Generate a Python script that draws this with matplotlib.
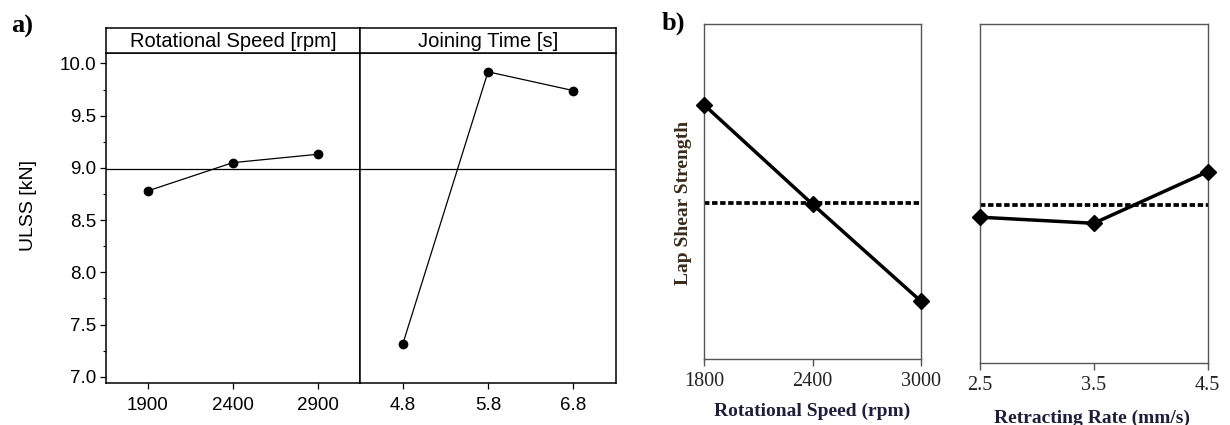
import numpy as np
import matplotlib
matplotlib.use("Agg")
import matplotlib.pyplot as plt
from matplotlib.ticker import MultipleLocator

# ---- (a) main effects on ULSS ----
speed_a_labels = ["1900", "2400", "2900"]
speed_a_ulss = [8.78, 9.05, 9.13]
time_a_labels = ["4.8", "5.8", "6.8"]
time_a_ulss = [7.31, 9.92, 9.74]
ulss_ticks = [7.0, 7.5, 8.0, 8.5, 9.0, 9.5, 10.0]

# ---- (b) main effects on lap shear strength (axis without scale) ----
speed_b = [1800, 2400, 3000]
speed_b_lss = [7.59, 4.63, 1.74]
rate_b = [2.5, 3.5, 4.5]
rate_b_lss = [4.31, 4.13, 5.65]

SANS = "Liberation Sans"
SERIF = "Liberation Serif"

W, H = 1230, 425
fig = plt.figure(figsize=(W / 100, H / 100), dpi=100)


def px_axes(x0, y0, x1, y1):
    """Axes placed by pixel box (origin top-left)."""
    return fig.add_axes([x0 / W, 1 - y1 / H, (x1 - x0) / W, (y1 - y0) / H])


# ================= panel a =================
grand_a = np.mean(speed_a_ulss + time_a_ulss)
ylim_a = (6.94, 10.10)

axL = px_axes(105.6, 53, 360, 383)
axR = px_axes(360, 53, 616, 383)
for ax, labels, vals in ((axL, speed_a_labels, speed_a_ulss),
                         (axR, time_a_labels, time_a_ulss)):
    pos = np.arange(len(vals))
    ax.axhline(grand_a, color="black", lw=0.9, zorder=1)
    ax.plot(pos, vals, color="black", lw=0.9, marker="o", ms=6, zorder=3)
    ax.set_xlim(-0.5, 2.5)
    ax.set_ylim(*ylim_a)
    ax.set_xticks(pos, labels)
    for s in ax.spines.values():
        s.set_linewidth(1.1)
    ax.tick_params(axis="x", direction="out", length=4, width=0.9,
                   labelsize=13.5, pad=6)
    for t in ax.get_xticklabels():
        t.set_family(SANS)

axL.set_yticks(ulss_ticks, [f"{v:.1f}" for v in ulss_ticks])
axL.yaxis.set_minor_locator(MultipleLocator(0.25))
axL.tick_params(axis="y", which="major", direction="out", length=4,
                width=0.9, labelsize=13.5, pad=3)
axL.tick_params(axis="y", which="minor", direction="out", length=2.5, width=0.8)
for t in axL.get_yticklabels():
    t.set_family(SANS)
axR.tick_params(axis="y", which="both", left=False, labelleft=False)

# factor headers
for (x0, x1), title in (((105.6, 360), "Rotational Speed [rpm]"),
                        ((360, 616), "Joining Time [s]")):
    hx = px_axes(x0, 28, x1, 53)
    hx.set_xticks([])
    hx.set_yticks([])
    for s in hx.spines.values():
        s.set_linewidth(1.1)
    hx.text(0.5, 0.45, title, transform=hx.transAxes, ha="center",
            va="center", fontsize=14.5, family=SANS)

fig.text(28.5 / W, 1 - 206 / H, "ULSS [kN]", rotation=90, ha="center",
         va="center", fontsize=14, family=SANS)
fig.text(11 / W, 1 - 26 / H, "a)", ha="left", va="center", fontsize=19,
         family=SERIF, fontweight="bold")

# ================= panel b =================
grand_b = np.mean(speed_b_lss + rate_b_lss)
spine_col = "#555555"

bL = px_axes(704.3, 24.3, 920.7, 359.3)
bR = px_axes(980, 24.3, 1207.5, 363.3)
for ax, xs, vals in ((bL, speed_b, speed_b_lss), (bR, rate_b, rate_b_lss)):
    ax.axhline(grand_b, color="black", lw=2.7,
               linestyle=(0, (1.45, 0.7)), dash_capstyle="butt", zorder=1)
    ax.plot(xs, vals, color="black", lw=2.5, marker="D", ms=8,
            clip_on=False, zorder=3)
    ax.set_xlim(xs[0], xs[-1])
    ax.set_ylim(0, 10)
    ax.set_xticks(xs, [f"{v:g}" if isinstance(v, int) else f"{v:.1f}" for v in xs])
    ax.set_yticks([])
    for s in ax.spines.values():
        s.set_linewidth(1.0)
        s.set_color(spine_col)
    ax.tick_params(axis="x", direction="out", length=5, width=1.0,
                   color=spine_col, labelsize=14.5, pad=4, labelcolor="#222222")
    for t in ax.get_xticklabels():
        t.set_family(SERIF)

fig.text(812.5 / W, 1 - 411.7 / H, "Rotational Speed (rpm)", ha="center",
         va="center", fontsize=14, family=SERIF, fontweight="bold",
         color="#1e1e3a")
fig.text(1091.7 / W, 1 - 418 / H, "Retracting Rate (mm/s)", ha="center",
         va="center", fontsize=14, family=SERIF, fontweight="bold",
         color="#1e1e3a")
fig.text(683 / W, 1 - 203 / H, "Lap Shear Strength", rotation=90,
         ha="center", va="center", fontsize=14, family=SERIF,
         fontweight="bold", color="#3a2c1a")
fig.text(662 / W, 1 - 23.5 / H, "b)", ha="left", va="center", fontsize=19,
         family=SERIF, fontweight="bold")

fig.savefig("out.png", dpi=100)
